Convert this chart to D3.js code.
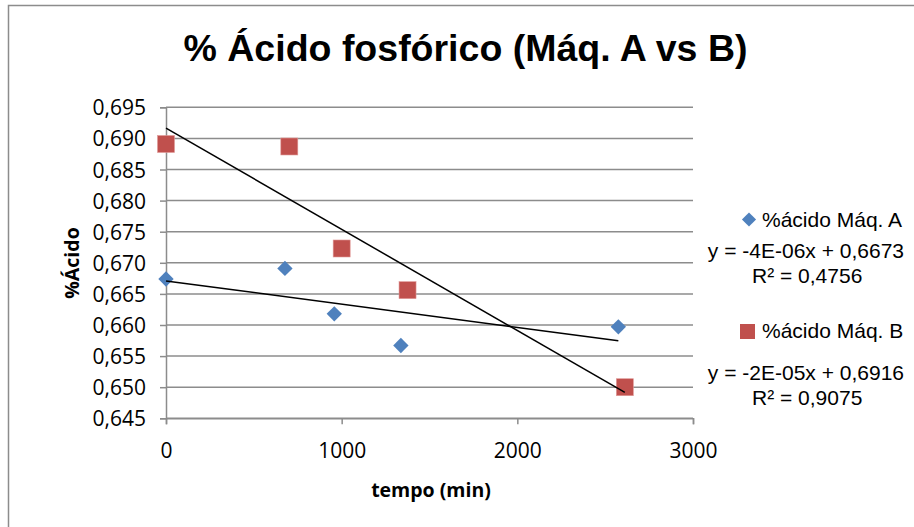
<!DOCTYPE html>
<html>
<head>
<meta charset="utf-8">
<script src="https://cdn.jsdelivr.net/npm/d3@7"></script>
<style>
  body { margin: 0; background: #fff; }
  svg { display: block; }
</style>
</head>
<body>
<svg></svg>
<script>
// values
let tempoA = [0, 677, 958, 1337, 2575]
let acidoA = [0.6674, 0.6691, 0.6618, 0.6567, 0.6597]
let tempoB = [0, 702, 1000, 1375, 2612]
let acidoB = [0.6891, 0.6887, 0.6723, 0.6656, 0.6500]

let yTicks = [0.645, 0.650, 0.655, 0.660, 0.665, 0.670, 0.675, 0.680, 0.685, 0.690, 0.695]
let xTicks = [0, 1000, 2000, 3000]

let seriesNames = ["%ácido Máq. A", "%ácido Máq. B"]
let equationLabels = ["y = -4E-06x + 0,6673", "y = -2E-05x + 0,6916"]
let r2Labels = ["R² = 0,4756", "R² = 0,9075"]

let width = 914
let height = 527
let plot = { left: 166, right: 693, top: 107.3, bottom: 418.3 }

let blue = "#4f81bd"
let red = "#c0504d"
let labelFont = "'Open Sans', Lato, sans-serif"
let arial = "'Liberation Sans', Arial, sans-serif"

let svg = d3.select("svg").attr("width", width).attr("height", height)

// outer frame
svg.append("rect")
   .attr("x", 8.5).attr("y", 5.5)
   .attr("width", 1000).attr("height", 1000)
   .attr("fill", "none").attr("stroke", "#8c8c8c").attr("stroke-width", 1.5)

let xScale = d3.scaleLinear().domain([0, 3000]).range([plot.left, plot.right])
let yScale = d3.scaleLinear().domain([0.645, 0.695]).range([plot.bottom, plot.top])

let comma = d => d3.format(".3f")(d).replace(".", ",")

// horizontal gridlines
svg.append("g")
   .selectAll("line")
   .data(yTicks)
   .enter()
   .append("line")
   .attr("x1", plot.left).attr("x2", plot.right)
   .attr("y1", d => yScale(d)).attr("y2", d => yScale(d))
   .attr("stroke", "#8c8c8c").attr("stroke-width", 1.5)

// y axis
let yAxis = d3.axisLeft(yScale).tickValues(yTicks).tickFormat(comma).tickSize(6).tickPadding(14)
let gy = svg.append("g")
   .attr("transform", "translate(" + plot.left + ",0)")
   .call(yAxis)
gy.select(".domain").attr("stroke", "#8c8c8c").attr("stroke-width", 1.5)
gy.selectAll(".tick line").attr("stroke", "#8c8c8c").attr("stroke-width", 1.5)
gy.selectAll("text").attr("font-family", labelFont).attr("font-size", 21).attr("fill", "#000")
  .attr("dy", "0.36em")

// x axis
let xAxis = d3.axisBottom(xScale).tickValues(xTicks).tickFormat(d3.format("d")).tickSize(6)
let gx = svg.append("g")
   .attr("transform", "translate(0," + plot.bottom + ")")
   .call(xAxis)
gx.select(".domain").attr("stroke", "#8c8c8c").attr("stroke-width", 1.5)
gx.selectAll(".tick line").attr("stroke", "#8c8c8c").attr("stroke-width", 1.5)
gx.selectAll("text").attr("font-family", labelFont).attr("font-size", 21).attr("fill", "#000")
  .attr("y", 40).attr("dy", 0)

// linear trendlines (least squares)
let fit = (xs, ys) => {
  let mx = d3.mean(xs), my = d3.mean(ys)
  let sxy = d3.sum(xs, (x, i) => (x - mx) * (ys[i] - my))
  let sxx = d3.sum(xs, x => (x - mx) * (x - mx))
  let slope = sxy / sxx
  return { slope: slope, intercept: my - slope * mx, x0: d3.min(xs), x1: d3.max(xs) }
}
let trends = [fit(tempoA, acidoA), fit(tempoB, acidoB)]

// markers
let diamond = d3.symbol().type(d3.symbolDiamond2).size(150)
svg.append("g")
   .selectAll("path")
   .data(tempoA.map((t, i) => [t, acidoA[i]]))
   .enter()
   .append("path")
   .attr("d", diamond)
   .attr("transform", d => "translate(" + xScale(d[0]) + "," + yScale(d[1]) + ")")
   .attr("fill", blue)

svg.append("g")
   .selectAll("rect")
   .data(tempoB.map((t, i) => [t, acidoB[i]]))
   .enter()
   .append("rect")
   .attr("x", d => xScale(d[0]) - 8.5)
   .attr("y", d => yScale(d[1]) - 8.5)
   .attr("width", 17).attr("height", 17)
   .attr("fill", red)
   .attr("stroke", "#e09a98").attr("stroke-width", 0.6)

svg.append("g")
   .selectAll("line")
   .data(trends)
   .enter()
   .append("line")
   .attr("x1", d => xScale(d.x0)).attr("y1", d => yScale(d.intercept + d.slope * d.x0))
   .attr("x2", d => xScale(d.x1)).attr("y2", d => yScale(d.intercept + d.slope * d.x1))
   .attr("stroke", "#000").attr("stroke-width", 1.5)

// titles
svg.append("text")
   .attr("x", 465.5).attr("y", 61)
   .attr("text-anchor", "middle")
   .attr("font-family", arial)
   .attr("font-weight", "bold").attr("font-size", 37.5)
   .text("% Ácido fosfórico (Máq. A vs B)")

svg.append("text")
   .attr("transform", "translate(79,263) rotate(-90)")
   .attr("text-anchor", "middle")
   .attr("font-family", labelFont)
   .attr("font-weight", "bold").attr("font-size", 19.5)
   .text("%Ácido")

svg.append("text")
   .attr("x", 431).attr("y", 497)
   .attr("text-anchor", "middle")
   .attr("font-family", labelFont)
   .attr("font-weight", "bold").attr("font-size", 19.5)
   .text("tempo (min)")

// legend with trendline labels
let legendY = [227, 338]
let eqY = [258, 380]
let r2Y = [283, 405]
let legend = svg.append("g")
  .attr("font-family", arial)
  .attr("font-size", 21)

legend.append("path")
   .attr("d", d3.symbol().type(d3.symbolDiamond2).size(128))
   .attr("transform", "translate(749,219.5)")
   .attr("fill", blue)
legend.append("rect")
   .attr("x", 740).attr("y", 324)
   .attr("width", 15).attr("height", 15)
   .attr("fill", red)

seriesNames.forEach((name, i) => {
  legend.append("text")
     .attr("x", 762).attr("y", legendY[i])
     .text(name)
  legend.append("text")
     .attr("x", 904).attr("y", eqY[i])
     .attr("text-anchor", "end")
     .text(equationLabels[i])
  legend.append("text")
     .attr("x", 752).attr("y", r2Y[i])
     .text(r2Labels[i])
})
</script>
</body>
</html>
